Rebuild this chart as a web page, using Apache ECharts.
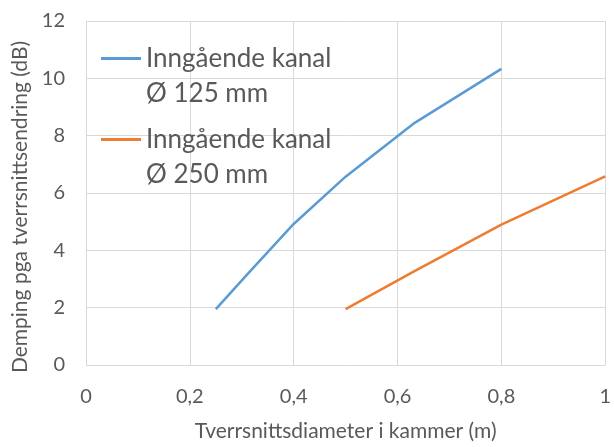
<!DOCTYPE html>
<html>
<head>
<meta charset="utf-8">
<script src="https://cdn.jsdelivr.net/npm/echarts@6/dist/echarts.min.js"></script>
</head>
<body style="margin:0">
<div id="chart" style="width:614px;height:447px"></div>
<script type="text/javascript">
// Ø 125 mm inlet
var x125 = [0.25, 0.315, 0.4, 0.5, 0.63, 0.8];
var y125 = [1.95, 3.25, 4.92, 6.57, 8.41, 10.33];
// Ø 250 mm inlet
var x250 = [0.5, 0.63, 0.8, 1.0];
var y250 = [1.95, 3.25, 4.9, 6.58];
var names = ['Inngående kanal\nØ 125 mm', 'Inngående kanal\nØ 250 mm'];

function pairs(xs, ys) {
    return xs.map(function (x, i) { return [x, ys[i]]; });
}

var font = 'Lato';
var grey = '#595959';
var chart = echarts.init(document.getElementById('chart'));
chart.setOption({
    animation: false,
    textStyle: { fontFamily: font },
    grid: { left: 86, right: 6, top: 21, bottom: 80 },
    legend: {
        orient: 'vertical',
        left: 96,
        top: 36,
        itemWidth: 40,
        itemHeight: 38,
        itemGap: 11,
        symbolKeepAspect: false,
        // line sits level with the first text line
        icon: 'path://M0,0H40V3H0Z M0,37.9H0.05V38H0Z',
        textStyle: { fontFamily: font, fontSize: 26, color: grey, lineHeight: 35 },
        data: names
    },
    xAxis: {
        type: 'value',
        min: 0, max: 1, interval: 0.2,
        name: 'Tverrsnittsdiameter i kammer (m)',
        nameLocation: 'middle',
        nameGap: 56,
        nameTextStyle: { fontSize: 21, color: grey, fontFamily: font },
        axisLine: { show: false },
        axisTick: { show: false },
        axisLabel: {
            fontSize: 20, color: grey, margin: 22,
            formatter: function (v) { return String(v).replace('.', ','); }
        },
        splitLine: { lineStyle: { color: '#d9d9d9', width: 1 } }
    },
    yAxis: {
        type: 'value',
        min: 0, max: 12, interval: 2,
        name: 'Demping pga tverrsnittsendring (dB)',
        nameLocation: 'middle',
        nameGap: 55,
        nameTextStyle: { fontSize: 21, color: grey, fontFamily: font, padding: [0, 28, 0, 0] },
        axisLine: { show: false },
        axisTick: { show: false },
        axisLabel: { fontSize: 20, color: grey, margin: 21 },
        splitLine: { lineStyle: { color: '#d9d9d9', width: 1 } }
    },
    series: [
        {
            name: names[0], type: 'line', symbol: 'none',
            data: pairs(x125, y125),
            lineStyle: { color: '#5b9bd5', width: 2.5 },
            itemStyle: { color: '#5b9bd5' }
        },
        {
            name: names[1], type: 'line', symbol: 'none',
            data: pairs(x250, y250),
            lineStyle: { color: '#ed7d31', width: 2.5 },
            itemStyle: { color: '#ed7d31' }
        }
    ]
});
</script>
</body>
</html>
